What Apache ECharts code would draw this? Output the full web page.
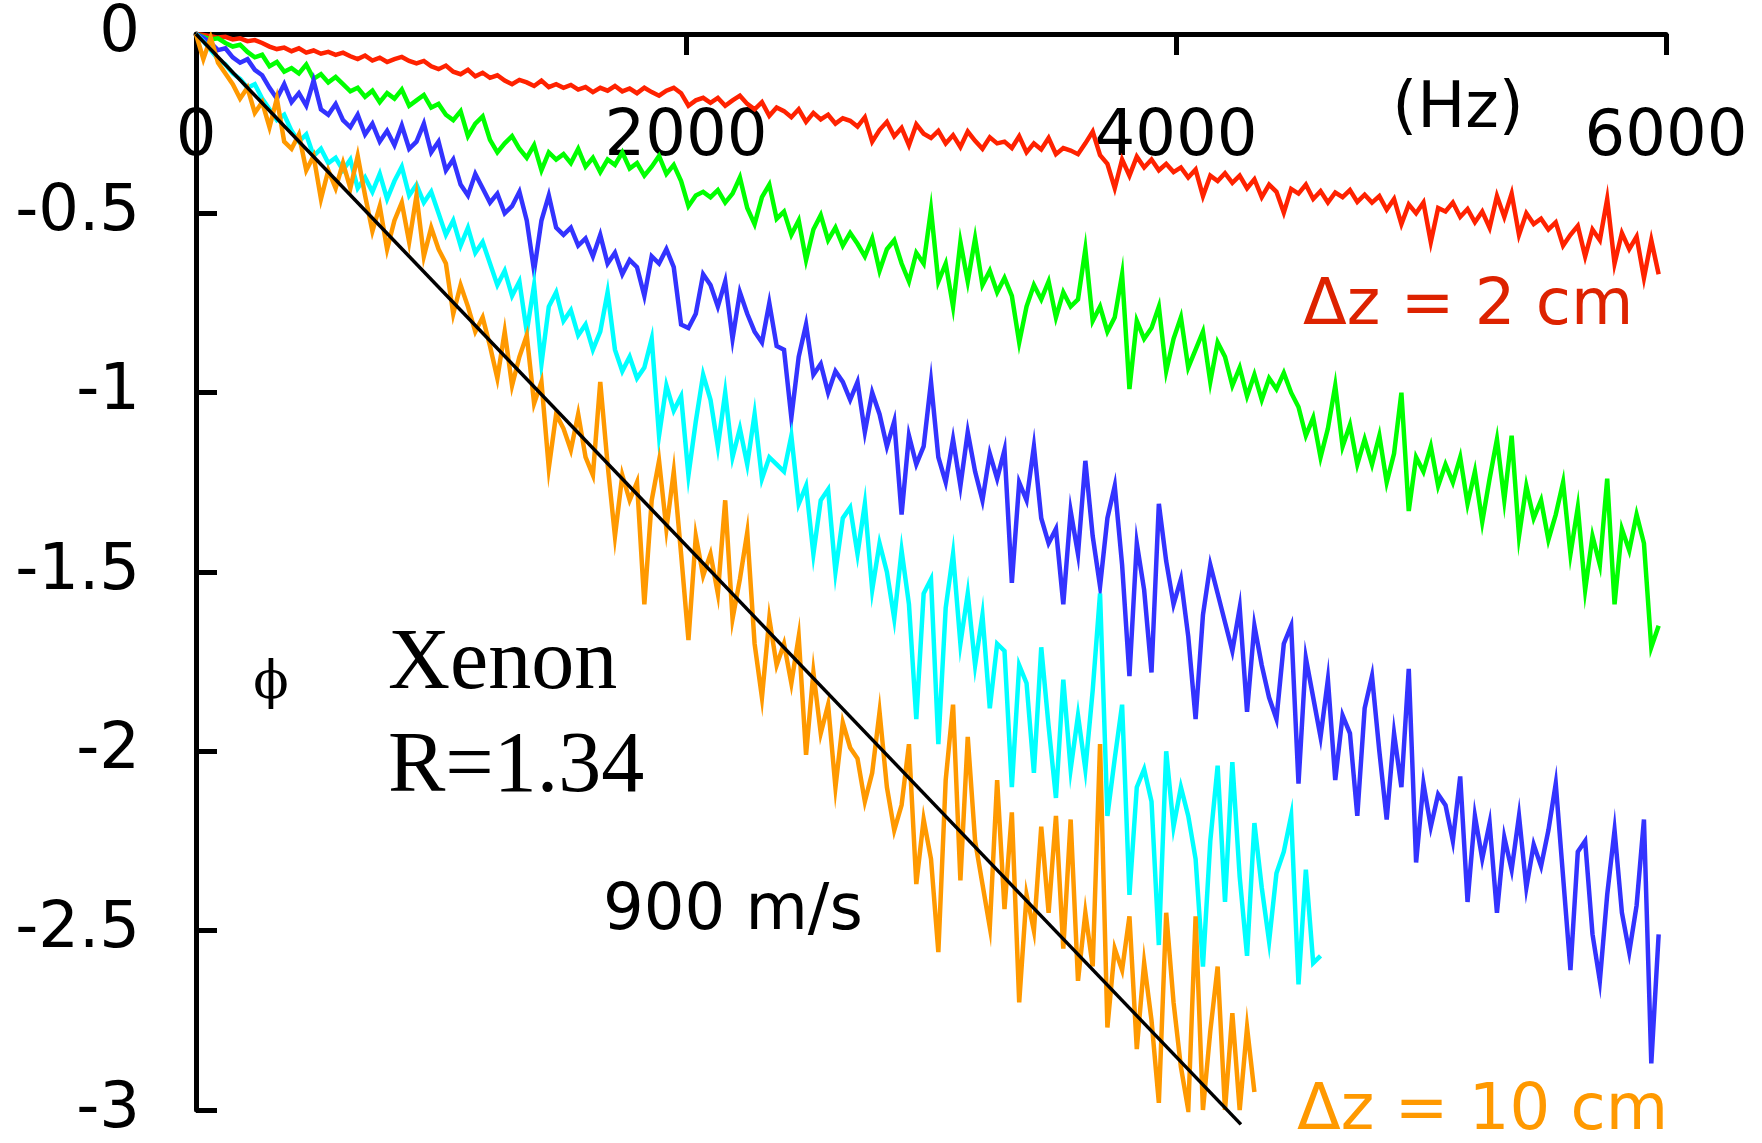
<!DOCTYPE html>
<html><head><meta charset="utf-8">
<script src="https://cdn.jsdelivr.net/npm/echarts@6/dist/echarts.min.js"></script>
<style>html,body{margin:0;padding:0;background:#fff}#c{width:1762px;height:1143px}</style>
</head><body><div id="c"></div>
<script>
// ---- data ----
const FREQ_STEP_HZ = 30;               // spacing of the frequency samples
const xTicks = [0, 2000, 4000, 6000];  // Hz
const yTicks = [0, -0.5, -1, -1.5, -2, -2.5, -3];

// phase (rad) for Δz = 2 cm (red)
const phaseRed = [
 0,-0.003,-0.006,-0.010,-0.008,-0.015,-0.012,-0.020,-0.017,-0.025,
 -0.035,-0.042,-0.038,-0.048,-0.040,-0.052,-0.046,-0.055,-0.050,-0.058,
 -0.052,-0.062,-0.070,-0.060,-0.074,-0.066,-0.078,-0.070,-0.064,-0.075,
 -0.082,-0.075,-0.090,-0.098,-0.088,-0.105,-0.112,-0.100,-0.118,-0.108,
 -0.122,-0.115,-0.130,-0.140,-0.128,-0.135,-0.145,-0.130,-0.148,-0.140,
 -0.150,-0.142,-0.155,-0.148,-0.162,-0.150,-0.158,-0.145,-0.160,-0.152,
 -0.165,-0.150,-0.162,-0.172,-0.158,-0.150,-0.165,-0.200,-0.185,-0.178,
 -0.192,-0.178,-0.200,-0.185,-0.172,-0.195,-0.210,-0.190,-0.228,-0.205,
 -0.215,-0.232,-0.210,-0.245,-0.220,-0.238,-0.225,-0.250,-0.235,-0.242,
 -0.258,-0.232,-0.300,-0.268,-0.245,-0.285,-0.262,-0.310,-0.252,-0.278,
 -0.290,-0.270,-0.305,-0.282,-0.315,-0.272,-0.298,-0.320,-0.288,-0.305,
 -0.300,-0.318,-0.285,-0.330,-0.305,-0.322,-0.290,-0.335,-0.318,-0.325,
 -0.335,-0.305,-0.272,-0.338,-0.362,-0.430,-0.350,-0.395,-0.342,-0.372,
 -0.350,-0.380,-0.362,-0.385,-0.372,-0.400,-0.378,-0.452,-0.395,-0.410,
 -0.388,-0.415,-0.395,-0.430,-0.405,-0.455,-0.420,-0.440,-0.498,-0.432,
 -0.445,-0.420,-0.460,-0.438,-0.470,-0.442,-0.455,-0.435,-0.468,-0.448,
 -0.470,-0.452,-0.490,-0.460,-0.530,-0.475,-0.500,-0.470,-0.580,-0.485,
 -0.495,-0.470,-0.510,-0.488,-0.525,-0.495,-0.540,-0.452,-0.510,-0.445,
 -0.560,-0.500,-0.530,-0.515,-0.545,-0.525,-0.590,-0.560,-0.535,-0.620,
 -0.545,-0.575,-0.460,-0.640,-0.555,-0.600,-0.565,-0.680,-0.575,-0.670
];
// green
const phaseGreen = [
 0,-0.008,-0.015,-0.012,-0.025,-0.035,-0.030,-0.050,-0.065,-0.058,
 -0.090,-0.078,-0.105,-0.095,-0.110,-0.085,-0.125,-0.112,-0.135,-0.120,
 -0.140,-0.160,-0.150,-0.175,-0.158,-0.190,-0.165,-0.180,-0.155,-0.200,
 -0.185,-0.170,-0.205,-0.195,-0.225,-0.240,-0.215,-0.285,-0.250,-0.230,
 -0.295,-0.330,-0.305,-0.285,-0.320,-0.345,-0.310,-0.380,-0.330,-0.350,
 -0.335,-0.360,-0.320,-0.370,-0.345,-0.385,-0.350,-0.365,-0.330,-0.375,
 -0.360,-0.395,-0.370,-0.340,-0.390,-0.365,-0.410,-0.480,-0.450,-0.440,
 -0.455,-0.435,-0.470,-0.445,-0.400,-0.485,-0.530,-0.455,-0.420,-0.515,
 -0.495,-0.560,-0.520,-0.630,-0.545,-0.505,-0.575,-0.540,-0.590,-0.555,
 -0.585,-0.620,-0.570,-0.660,-0.600,-0.575,-0.640,-0.690,-0.610,-0.640,
 -0.490,-0.690,-0.640,-0.760,-0.580,-0.690,-0.570,-0.700,-0.660,-0.720,
 -0.680,-0.730,-0.860,-0.760,-0.700,-0.740,-0.690,-0.790,-0.720,-0.760,
 -0.740,-0.600,-0.800,-0.760,-0.830,-0.790,-0.670,-0.990,-0.800,-0.850,
 -0.820,-0.760,-0.940,-0.850,-0.790,-0.930,-0.880,-0.830,-0.970,-0.860,
 -0.900,-0.980,-0.930,-1.010,-0.950,-1.020,-0.960,-0.990,-0.945,-1.000,
 -1.040,-1.120,-1.070,-1.180,-1.100,-0.980,-1.150,-1.090,-1.200,-1.130,
 -1.200,-1.120,-1.250,-1.170,-1.000,-1.330,-1.180,-1.220,-1.150,-1.260,
 -1.200,-1.250,-1.180,-1.310,-1.220,-1.360,-1.240,-1.130,-1.300,-1.120,
 -1.400,-1.260,-1.350,-1.300,-1.410,-1.340,-1.250,-1.450,-1.320,-1.550,
 -1.400,-1.480,-1.240,-1.590,-1.380,-1.440,-1.340,-1.420,-1.710,-1.650
];
// blue
const phaseBlue = [
 0,-0.010,-0.025,-0.045,-0.040,-0.065,-0.080,-0.070,-0.100,-0.115,
 -0.150,-0.180,-0.140,-0.190,-0.165,-0.200,-0.130,-0.210,-0.225,-0.195,
 -0.240,-0.260,-0.225,-0.280,-0.250,-0.300,-0.270,-0.310,-0.255,-0.320,
 -0.300,-0.250,-0.330,-0.300,-0.380,-0.350,-0.420,-0.450,-0.390,-0.430,
 -0.470,-0.445,-0.500,-0.480,-0.440,-0.520,-0.660,-0.520,-0.450,-0.540,
 -0.560,-0.540,-0.590,-0.570,-0.620,-0.560,-0.640,-0.610,-0.670,-0.630,
 -0.650,-0.730,-0.620,-0.640,-0.600,-0.650,-0.810,-0.820,-0.780,-0.670,
 -0.700,-0.760,-0.690,-0.850,-0.720,-0.780,-0.830,-0.860,-0.750,-0.870,
 -0.880,-1.070,-0.900,-0.810,-0.950,-0.920,-1.000,-0.940,-0.970,-1.020,
 -0.970,-1.110,-1.000,-1.060,-1.150,-1.080,-1.340,-1.120,-1.200,-1.150,
 -0.970,-1.180,-1.250,-1.130,-1.260,-1.110,-1.220,-1.300,-1.170,-1.240,
 -1.160,-1.530,-1.250,-1.300,-1.150,-1.350,-1.420,-1.380,-1.590,-1.330,
 -1.450,-1.190,-1.400,-1.540,-1.350,-1.260,-1.480,-1.790,-1.420,-1.550,
 -1.780,-1.310,-1.470,-1.590,-1.520,-1.680,-1.910,-1.620,-1.480,-1.560,
 -1.640,-1.720,-1.600,-1.890,-1.650,-1.760,-1.850,-1.910,-1.700,-1.650,
 -2.090,-1.740,-1.850,-1.960,-1.800,-2.080,-1.900,-1.950,-2.180,-1.880,
 -1.790,-2.000,-2.190,-1.950,-2.100,-1.770,-2.310,-2.090,-2.210,-2.120,
 -2.150,-2.250,-2.070,-2.420,-2.180,-2.300,-2.200,-2.450,-2.240,-2.330,
 -2.180,-2.380,-2.260,-2.320,-2.220,-2.090,-2.350,-2.610,-2.280,-2.250,
 -2.510,-2.640,-2.400,-2.220,-2.450,-2.560,-2.430,-2.190,-2.870,-2.510
];
// cyan
const phaseCyan = [
 0,-0.020,-0.045,-0.070,-0.085,-0.110,-0.125,-0.150,-0.140,-0.180,
 -0.210,-0.240,-0.225,-0.270,-0.300,-0.280,-0.340,-0.320,-0.360,-0.345,
 -0.380,-0.350,-0.430,-0.400,-0.440,-0.390,-0.460,-0.410,-0.370,-0.450,
 -0.420,-0.470,-0.440,-0.500,-0.560,-0.520,-0.590,-0.540,-0.610,-0.580,
 -0.640,-0.700,-0.660,-0.730,-0.690,-0.830,-0.700,-0.920,-0.760,-0.720,
 -0.800,-0.770,-0.840,-0.810,-0.880,-0.830,-0.720,-0.880,-0.940,-0.900,
 -0.960,-0.930,-0.850,-1.120,-0.980,-1.050,-1.010,-1.230,-1.080,-0.950,
 -1.020,-1.150,-1.000,-1.180,-1.100,-1.200,-1.060,-1.240,-1.180,-1.200,
 -1.220,-1.120,-1.310,-1.260,-1.450,-1.300,-1.270,-1.500,-1.350,-1.320,
 -1.450,-1.310,-1.550,-1.420,-1.500,-1.630,-1.440,-1.590,-1.910,-1.560,
 -1.520,-1.980,-1.600,-1.450,-1.700,-1.560,-1.760,-1.620,-1.880,-1.700,
 -1.720,-2.100,-1.760,-1.810,-2.060,-1.710,-1.930,-2.130,-1.800,-2.050,
 -1.900,-2.050,-1.830,-1.560,-2.180,-2.020,-1.870,-2.400,-2.100,-2.050,
 -2.140,-2.540,-2.000,-2.210,-2.100,-2.180,-2.300,-2.600,-2.250,-2.040,
 -2.420,-2.030,-2.350,-2.570,-2.200,-2.380,-2.530,-2.340,-2.280,-2.180,
 -2.650,-2.330,-2.590,-2.570
];
// Δz = 10 cm (orange)
const phaseOrange = [
 0,-0.070,-0.010,-0.080,-0.110,-0.140,-0.180,-0.150,-0.220,-0.190,
 -0.260,-0.180,-0.300,-0.320,-0.280,-0.380,-0.340,-0.460,-0.380,-0.430,
 -0.360,-0.430,-0.340,-0.450,-0.550,-0.480,-0.600,-0.520,-0.470,-0.580,
 -0.450,-0.620,-0.540,-0.600,-0.640,-0.780,-0.700,-0.760,-0.830,-0.790,
 -0.870,-0.960,-0.830,-0.980,-0.900,-0.840,-1.030,-0.970,-1.210,-1.060,
 -1.100,-1.160,-1.060,-1.180,-1.230,-0.970,-1.200,-1.400,-1.230,-1.300,
 -1.250,-1.590,-1.300,-1.190,-1.380,-1.220,-1.450,-1.690,-1.400,-1.510,
 -1.450,-1.560,-1.300,-1.630,-1.520,-1.390,-1.700,-1.850,-1.630,-1.760,
 -1.700,-1.810,-1.680,-2.010,-1.780,-1.950,-1.870,-2.100,-1.920,-1.990,
 -2.020,-2.140,-2.060,-1.890,-2.100,-2.220,-2.150,-1.980,-2.370,-2.190,
 -2.300,-2.560,-2.080,-1.870,-2.360,-1.960,-2.250,-2.370,-2.490,-2.080,
 -2.440,-2.170,-2.700,-2.400,-2.500,-2.210,-2.450,-2.180,-2.550,-2.190,
 -2.640,-2.450,-2.600,-1.980,-2.770,-2.550,-2.610,-2.460,-2.830,-2.590,
 -2.750,-2.980,-2.450,-2.700,-2.880,-3.000,-2.460,-3.000,-2.780,-2.600,
 -3.000,-2.730,-3.000,-2.770,-2.950
];
// straight line, 900 m/s
const fitFreq = [0, 4265];
const fitPhase = [0, -3.04];

const seriesColors = ['#ff2200', '#00ff00', '#3333ff', '#00ffff', '#ff9900'];

// ---- chart ----
function pairs(arr){ return arr.map((v,i)=>[i*FREQ_STEP_HZ, v]); }
const noisy = [phaseRed, phaseGreen, phaseBlue, phaseCyan, phaseOrange];
const series = noisy.map((arr, k) => ({
  type: 'line', data: pairs(arr), showSymbol: false, symbol: 'none',
  lineStyle: { color: seriesColors[k], width: 4.5, join: 'miter' }, z: 3 + k, silent: true
}));
series.push({
  type: 'line', data: fitFreq.map((f,i)=>[f, fitPhase[i]]), showSymbol: false, symbol: 'none',
  clip: false, lineStyle: { color: '#000', width: 3.5 }, z: 10, silent: true
});

const font = 'DejaVu Sans';
const chart = echarts.init(document.getElementById('c'), null, { renderer: 'canvas' });
chart.setOption({
  animation: false,
  backgroundColor: '#fff',
  grid: { left: 196, right: 96, top: 34, bottom: 33, containLabel: false },
  xAxis: {
    type: 'value', position: 'top', min: xTicks[0], max: xTicks[xTicks.length-1],
    interval: xTicks[1] - xTicks[0],
    axisLine: { show: true, lineStyle: { color: '#000', width: 5 } },
    axisTick: { show: true, inside: true, length: 21, lineStyle: { color: '#000', width: 5 } },
    axisLabel: { inside: true, margin: 72, color: '#000', fontFamily: font, fontSize: 64,
                 formatter: v => String(v) },
    splitLine: { show: false }
  },
  yAxis: {
    type: 'value', min: yTicks[yTicks.length-1], max: yTicks[0],
    interval: Math.abs(yTicks[1] - yTicks[0]),
    axisLine: { show: true, lineStyle: { color: '#000', width: 5 } },
    axisTick: { show: true, inside: true, length: 21, lineStyle: { color: '#000', width: 5 } },
    axisLabel: { margin: 56, color: '#000', fontFamily: font, fontSize: 64,
                 formatter: v => String(v) },
    splitLine: { show: false }
  },
  series: series,
  graphic: [
    { type: 'text', x: 1458, y: 110, style: { text: '(Hz)', fill: '#000', font: '64px "DejaVu Sans"', textAlign: 'center', textVerticalAlign: 'middle' } },
    { type: 'text', x: 1303, y: 307, style: { text: 'Δz = 2 cm', fill: '#dd2200', font: '64px "DejaVu Sans"', textAlign: 'left', textVerticalAlign: 'middle' } },
    { type: 'text', x: 1297, y: 1112, style: { text: 'Δz = 10 cm', fill: '#ff9900', font: '64px "DejaVu Sans"', textAlign: 'left', textVerticalAlign: 'middle' } },
    { type: 'text', x: 603, y: 912, style: { text: '900 m/s', fill: '#000', font: '64px "DejaVu Sans"', textAlign: 'left', textVerticalAlign: 'middle' } },
    { type: 'text', x: 388, y: 665, style: { text: 'Xenon', fill: '#000', font: '86px "Liberation Serif", "Times New Roman", serif', textAlign: 'left', textVerticalAlign: 'middle' } },
    { type: 'text', x: 388, y: 768, style: { text: 'R=1.34', fill: '#000', font: '86px "Liberation Serif", "Times New Roman", serif', textAlign: 'left', textVerticalAlign: 'middle' } },
    { type: 'text', x: 271, y: 684, style: { text: 'ϕ', fill: '#000', font: '52px "DejaVu Serif", "Liberation Serif", serif', textAlign: 'center', textVerticalAlign: 'middle' } }
  ]
});
</script></body></html>
